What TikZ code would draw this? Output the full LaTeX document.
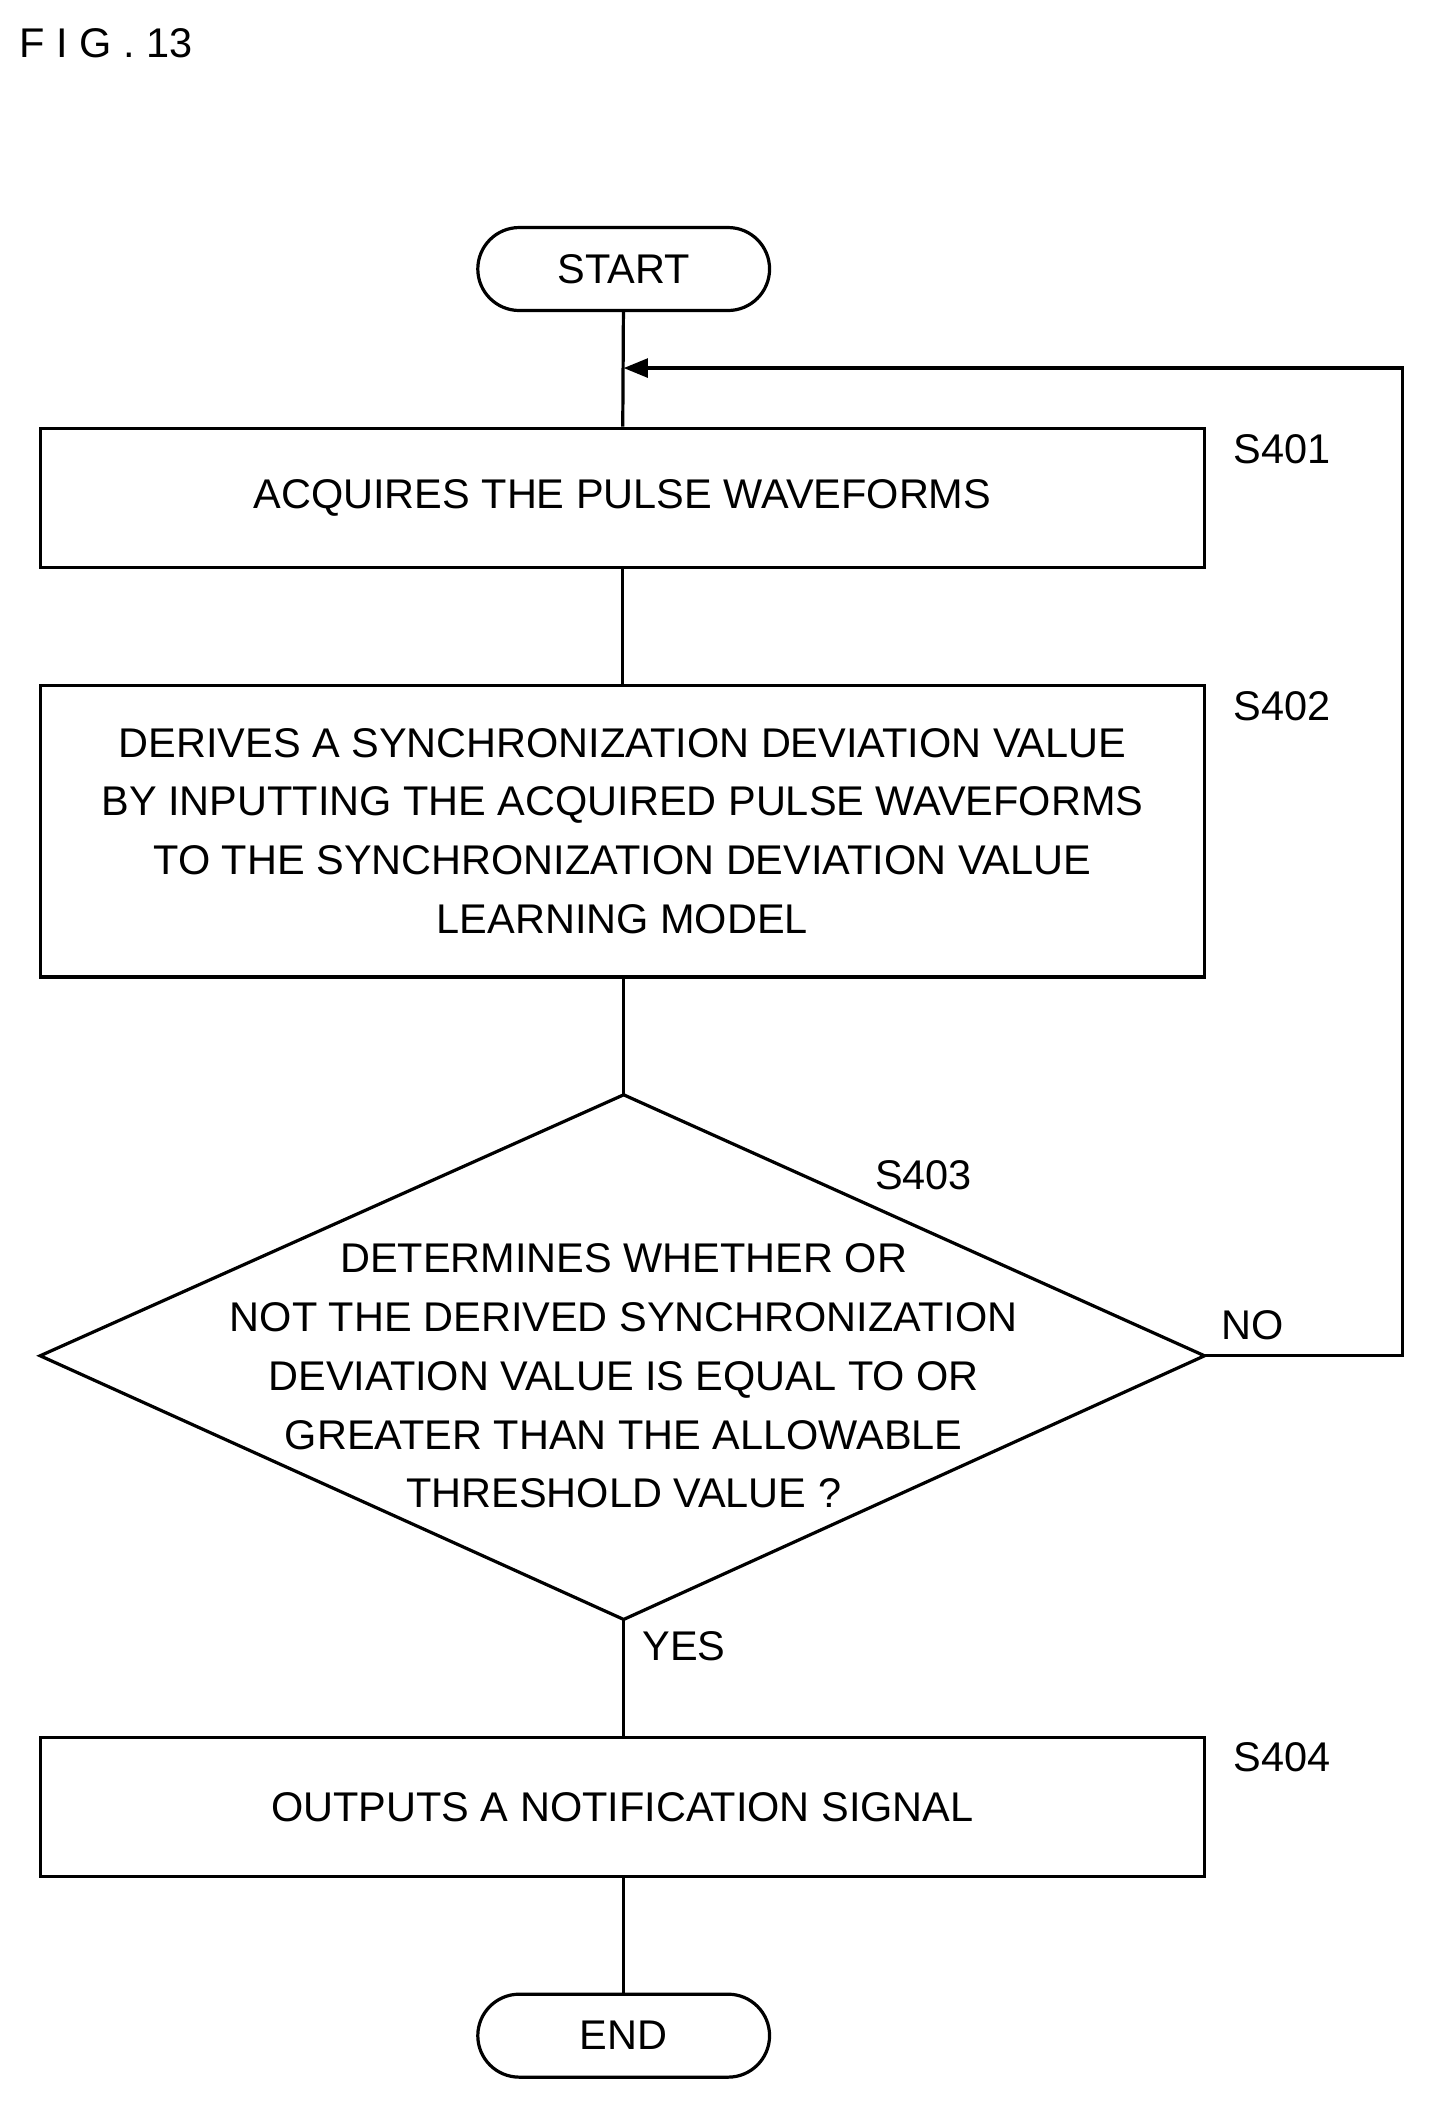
\documentclass[tikz,border=0pt]{standalone}
\usepackage{fontspec}
\setmainfont{Liberation Sans}
\usetikzlibrary{arrows.meta}
\begin{document}
\begin{tikzpicture}[x=1pt,y=-1pt,line width=2.4pt,
  box/.style={draw,minimum width=870pt,align=center,inner sep=0pt},
  term/.style={draw,rounded corners=31pt,minimum width=218pt,minimum height=62pt,inner sep=0pt},
  txt/.style={font=\fontsize{31}{44}\selectfont},
  lbl/.style={font=\fontsize{31}{36}\selectfont}]
\useasboundingbox (0,0) rectangle (1080,1590);
\node[lbl,anchor=west] (title) at (10,32) {F I G . 13};
\node[term,txt] (start) at (466,201) {START};
\node[box,txt,minimum height=104pt] (s401) at (465,372) {ACQUIRES THE PULSE WAVEFORMS};
\node[box,txt,minimum height=218pt] (s402) at (465,621) {DERIVES A SYNCHRONIZATION DEVIATION VALUE\\BY INPUTTING THE ACQUIRED PULSE WAVEFORMS\\TO THE SYNCHRONIZATION DEVIATION VALUE\\LEARNING MODEL};
\coordinate (dt) at (466,818);
\coordinate (db) at (466,1210);
\coordinate (dl) at (30,1013);
\coordinate (dr) at (900,1013);
\draw (dt) -- (dr) -- (db) -- (dl) -- cycle;
\node[txt,align=center] (s403) at (466,1028) {DETERMINES WHETHER OR\\NOT THE DERIVED SYNCHRONIZATION\\DEVIATION VALUE IS EQUAL TO OR\\GREATER THAN THE ALLOWABLE\\THRESHOLD VALUE ?};
\node[box,txt,minimum height=104pt] (s404) at (465,1350) {OUTPUTS A NOTIFICATION SIGNAL};
\node[term,txt] (end) at (466,1521) {END};
\node[lbl] (l1) at (958,336) {S401};
\node[lbl] (l2) at (958,528) {S402};
\node[lbl] (l3) at (690,878) {S403};
\node[lbl] (l4) at (958,1313) {S404};
\node[lbl] (no) at (936,990) {NO};
\node[lbl] (yes) at (511,1230) {YES};
\coordinate (j) at (466,275);
\draw (start) -- (s401);
\draw (s401) -- (s402);
\draw (s402.south -| dt) -- (dt);
\draw (db) -- (s404.north -| db);
\draw (s404.south -| end) -- (end);
\draw[-{Triangle[length=18pt,width=14pt]}] (dr) -- (1048,1013) -- (1048,275) -- (j);
\end{tikzpicture}
\end{document}
